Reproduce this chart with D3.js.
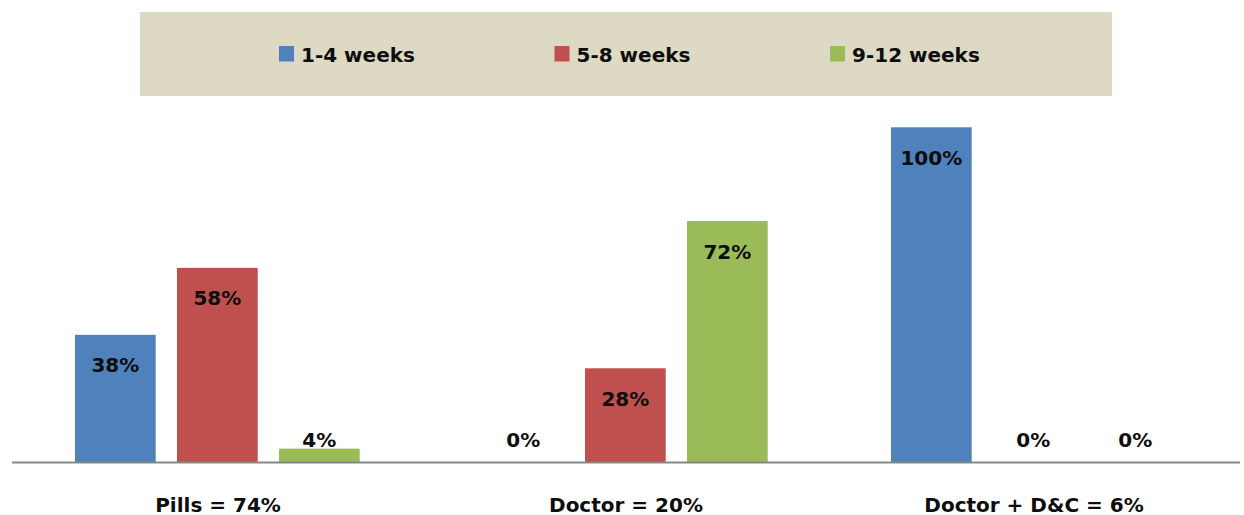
<!DOCTYPE html>
<html>
<head>
<meta charset="utf-8">
<script src="https://cdn.jsdelivr.net/npm/d3@7"></script>
<style>
  html, body { margin: 0; padding: 0; background: #fff; }
  svg { display: block; }
  text { font-family: "DejaVu Sans", Verdana, sans-serif; font-weight: bold; fill: #0d0d0d; }
</style>
</head>
<body>
<svg id="chart" width="1244" height="515"></svg>
<script>
const categories = ["Pills = 74%", "Doctor = 20%", "Doctor + D&C = 6%"];
const seriesNames = ["1-4 weeks", "5-8 weeks", "9-12 weeks"];
const seriesColors = ["#4F81BD", "#C0504D", "#9BBB59"];
const values1to4 = [38, 0, 100];
const values5to8 = [58, 28, 0];
const values9to12 = [4, 72, 0];
const seriesValues = [values1to4, values5to8, values9to12];

const W = 1244, H = 515;
const svg = d3.select("#chart");

// Legend box
const legend = { x: 140, y: 12, w: 972, h: 84 };
svg.append("rect")
  .attr("x", legend.x).attr("y", legend.y)
  .attr("width", legend.w).attr("height", legend.h)
  .attr("fill", "#DDD9C3");

const legendX = d3.scalePoint().domain(seriesNames).range([279, 830]);
const lg = svg.append("g").selectAll("g").data(seriesNames).join("g")
  .attr("transform", d => `translate(${legendX(d)},0)`);
lg.append("rect")
  .attr("x", 0).attr("y", 46).attr("width", 15).attr("height", 15.5)
  .attr("fill", (d, i) => seriesColors[i]);
lg.append("text")
  .attr("x", 22).attr("y", 61.5)
  .attr("font-size", 20)
  .text(d => d);

// Plot
const plot = { left: 12, right: 1236, baseline: 462, top: 127.3 };
const x0 = d3.scaleBand().domain(categories).range([plot.left, plot.right]).paddingInner(0).paddingOuter(0);
const x1 = d3.scaleBand().domain(seriesNames).range([63, x0.bandwidth() - 60.3]).paddingInner(0.209).paddingOuter(0);
const y = d3.scaleLinear().domain([0, 100]).range([plot.baseline, plot.top]);

const rows = [];
categories.forEach((c, ci) => {
  seriesNames.forEach((s, si) => {
    rows.push({ cat: c, series: s, si, value: seriesValues[si][ci] });
  });
});

const bars = svg.append("g");
bars.selectAll("rect").data(rows).join("rect")
  .attr("x", d => x0(d.cat) + x1(d.series))
  .attr("y", d => y(d.value))
  .attr("width", x1.bandwidth())
  .attr("height", d => y(0) - y(d.value))
  .attr("fill", d => seriesColors[d.si]);

bars.selectAll("text").data(rows).join("text")
  .attr("x", d => x0(d.cat) + x1(d.series) + x1.bandwidth() / 2)
  .attr("y", d => Math.min(y(d.value) + 37.5, y(0) - 15.5))
  .attr("text-anchor", "middle")
  .attr("font-size", 20)
  .text(d => d.value + "%");

// Axis line
svg.append("line")
  .attr("x1", 12).attr("x2", 1240)
  .attr("y1", plot.baseline + 0.5).attr("y2", plot.baseline + 0.5)
  .attr("stroke", "#868686").attr("stroke-width", 2);

// Category labels
svg.append("g").selectAll("text").data(categories).join("text")
  .attr("x", d => x0(d) + x0.bandwidth() / 2 + 2)
  .attr("y", 511.5)
  .attr("text-anchor", "middle")
  .attr("font-size", 20)
  .text(d => d);
</script>
</body>
</html>
